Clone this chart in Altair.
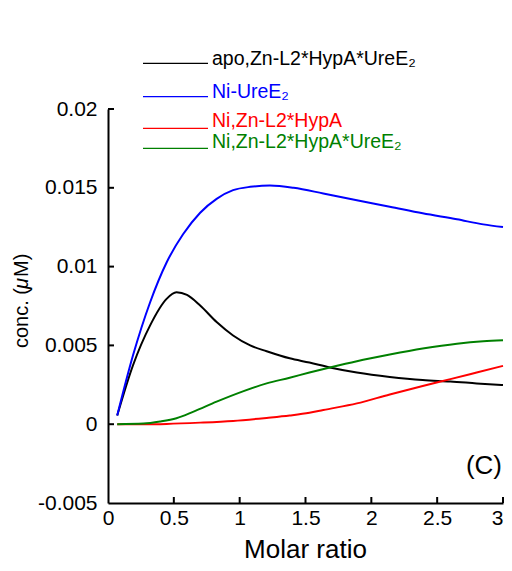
import altair as alt
import pandas as pd

# ---------------- data ----------------
series_names = ["apo,Zn-L2*HypA*UreE₂", "Ni-UreE₂", "Ni,Zn-L2*HypA", "Ni,Zn-L2*HypA*UreE₂"]
series_colors = ["#000000", "#0000ff", "#ff0000", "#008000"]

black_x = [0.07, 0.19, 0.32, 0.445, 0.52, 0.60, 0.70, 0.825, 0.95, 1.08, 1.205, 1.38, 1.53, 1.685, 1.89, 2.14, 2.39, 2.6, 2.8, 3.0]
black_y = [0.00055, 0.00374, 0.00627, 0.00795, 0.00837, 0.0082, 0.00753, 0.00648, 0.00563, 0.005, 0.00463, 0.00418, 0.00391, 0.0036, 0.00328, 0.003, 0.0028, 0.00271, 0.00259, 0.00248]

blue_x = [0.07, 0.19, 0.32, 0.445, 0.57, 0.70, 0.825, 0.95, 1.08, 1.23, 1.41, 1.635, 1.89, 2.14, 2.39, 2.65, 2.85, 3.0]
blue_y = [0.00055, 0.00437, 0.00774, 0.01026, 0.01205, 0.01342, 0.0143, 0.01485, 0.01506, 0.01514, 0.0150, 0.01464, 0.01421, 0.0138, 0.01338, 0.0130, 0.01268, 0.01251]

red_x = [0.07, 0.27, 0.445, 0.70, 0.95, 1.205, 1.38, 1.53, 1.635, 1.89, 2.14, 2.39, 2.6, 2.8, 3.0]
red_y = [0.0, 0.0, 0.00002, 0.0001, 0.00021, 0.0004, 0.00055, 0.00072, 0.0009, 0.00132, 0.00189, 0.00242, 0.00286, 0.00328, 0.0037]

green_x = [0.07, 0.27, 0.395, 0.52, 0.65, 0.825, 1.03, 1.205, 1.38, 1.53, 1.685, 1.89, 2.14, 2.39, 2.65, 2.85, 3.0]
green_y = [0.0, 0.00004, 0.00017, 0.00038, 0.0008, 0.00143, 0.0021, 0.00259, 0.00295, 0.00328, 0.0036, 0.004, 0.00442, 0.0048, 0.00511, 0.00526, 0.00532]

x_tick_values = [0, 0.5, 1, 1.5, 2, 2.5, 3]
x_tick_labels = ["0", "0.5", "1", "1.5", "2", "2.5", "3"]
y_tick_values = [-0.005, 0, 0.005, 0.01, 0.015, 0.02]
y_tick_labels = ["-0.005", "0", "0.005", "0.01", "0.015", "0.02"]

x_title = "Molar ratio"
y_title_parts = ["conc. (", "μ", "M)"]   # "conc. (μM)", μ in italics
panel_label = "(C)"

# ---------------- layout ----------------
W, H = 395, 394
FONT = "Liberation Sans"


def label_expr(vals, labs):
    v = "[" + ",".join(repr(float(a)) for a in vals) + "]"
    l = "[" + ",".join("'" + s + "'" for s in labs) + "]"
    return f"{l}[indexof({v}, datum.value)]"


x_scale = alt.Scale(domain=[0, 3], nice=False, zero=False)
y_scale = alt.Scale(domain=[-0.005, 0.02], nice=False, zero=False)

x_axis = alt.Axis(
    values=x_tick_values, labelExpr=label_expr(x_tick_values, x_tick_labels),
    ticks=False, grid=False, domainWidth=2, domainColor="black",
    labelFontSize=21, labelFont=FONT, labelColor="black", labelPadding=4,
    labelAlign={"condition": {"test": f"datum.value == {x_tick_values[-1]}", "value": "right"}, "value": "center"},
    labelFlush=False, labelOverlap=False, labelBound=False,
    title=x_title, titleFontSize=26, titleFont=FONT, titleFontWeight="normal",
    titleColor="black", titleX=197, titleY=54, titleBaseline="alphabetic", titleAlign="center",
)
y_axis = alt.Axis(
    values=y_tick_values, labelExpr=label_expr(y_tick_values, y_tick_labels),
    ticks=False, grid=False, domainWidth=2, domainColor="black",
    labelFontSize=21, labelFont=FONT, labelColor="black", labelPadding=11,
    labelFlush=False, labelOverlap=False, labelBound=False,
    title=None,
)

series_x = [black_x, blue_x, red_x, green_x]
series_y = [black_y, blue_y, red_y, green_y]

layers = []
for i, (name, col) in enumerate(zip(series_names, series_colors)):
    df = pd.DataFrame({"x": series_x[i], "y": series_y[i]})
    layers.append(
        alt.Chart(df).mark_line(color=col, strokeWidth=2, interpolate="monotone")
        .encode(x=alt.X("x:Q", scale=x_scale, axis=x_axis),
                y=alt.Y("y:Q", scale=y_scale, axis=y_axis))
    )

# inward tick marks
xt = pd.DataFrame({"x": x_tick_values[1:]})
layers.append(
    alt.Chart(xt).mark_rule(color="black", strokeWidth=2)
    .encode(x=alt.X("x:Q", scale=x_scale, axis=x_axis), y=alt.value(H), y2=alt.value(H - 6))
)
yt = pd.DataFrame({"y": y_tick_values[1:]})
layers.append(
    alt.Chart(yt).mark_rule(color="black", strokeWidth=2)
    .encode(y=alt.Y("y:Q", scale=y_scale, axis=y_axis), x=alt.value(0), x2=alt.value(6))
)

# y-axis title, built from pieces so that μ can be italic
title_starts = [239, 180, 168]
title_styles = ["normal", "italic", "normal"]
for part, ys, st in zip(y_title_parts, title_starts, title_styles):
    td = pd.DataFrame({"t": [part]})
    layers.append(
        alt.Chart(td).mark_text(align="left", baseline="alphabetic", angle=270, fontSize=20,
                                font=FONT, fontStyle=st, color="black")
        .encode(x=alt.value(-80), y=alt.value(ys), text="t:N")
    )

# custom legend
leg_line_y = [-45.7, -12.3, 19.3, 39.3]
leg_text_y = [-44.5, -11.5, 18.0, 38.5]
for i, (name, col) in enumerate(zip(series_names, series_colors)):
    ld = pd.DataFrame({"label": [name]})
    layers.append(
        alt.Chart(ld).mark_rule(color=col, strokeWidth=1.3)
        .encode(x=alt.value(35), x2=alt.value(100), y=alt.value(leg_line_y[i]))
    )
    layers.append(
        alt.Chart(ld).mark_text(align="left", baseline="alphabetic", fontSize=19.5, font=FONT, color=col)
        .encode(x=alt.value(104), y=alt.value(leg_text_y[i]), text="label:N")
    )

# panel label
pl = pd.DataFrame({"t": [panel_label]})
layers.append(
    alt.Chart(pl).mark_text(align="right", baseline="alphabetic", fontSize=26, font=FONT, color="black")
    .encode(x=alt.value(394), y=alt.value(364.5), text="t:N")
)

chart = alt.layer(*layers).properties(
    width=W, height=H,
    background="white",
    autosize=alt.AutoSizeParams(type="none"),
    padding={"left": 100, "top": 101, "right": 1, "bottom": 60},
).configure_view(stroke=None)

chart.save("out.html", embed_options={"renderer": "svg", "actions": False})
